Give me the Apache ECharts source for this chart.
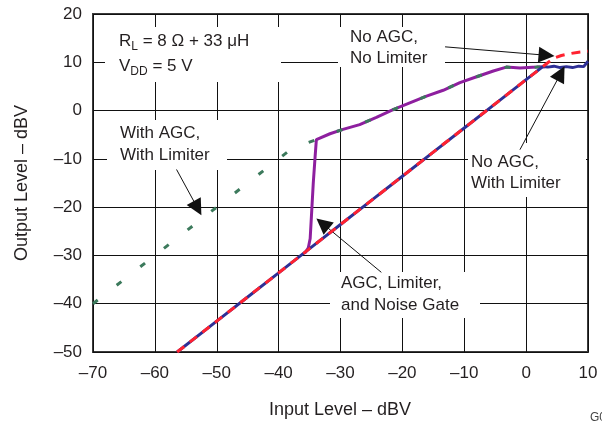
<!DOCTYPE html>
<html>
<head>
<meta charset="utf-8">
<script src="https://cdn.jsdelivr.net/npm/echarts@6/dist/echarts.min.js"></script>
<style>
html,body{margin:0;padding:0;background:#fff;}
#chart{width:602px;height:422px;}
</style>
</head>
<body>
<div id="chart"></div>
<script>
// ---- data ----
var xTicks = [-70, -60, -50, -40, -30, -20, -10, 0, 10];
var yTicks = [-50, -40, -30, -20, -10, 0, 10, 20];

// No AGC, No Limiter (red dashed)
var noAgcNoLimiter = [
  [-56.4,-50],[-50,-43.6],[-45,-38.6],[-40,-33.6],[-35,-28.6],[-30,-23.6],[-25,-18.6],
  [-20,-13.6],[-15,-8.6],[-10,-3.6],[-5,1.4],[0,6.4],[2.7,9.1],[3.6,10.0],[4.6,10.9],
  [5.7,11.4],[7.1,11.8],[8.5,12.1],[10,12.3]
];
// No AGC, With Limiter (blue)
var noAgcWithLimiter = [
  [-56.4,-50],[-50,-43.6],[-45,-38.6],[-40,-33.6],[-35,-28.6],[-30,-23.6],[-25,-18.6],
  [-20,-13.6],[-15,-8.6],[-10,-3.6],[-5,1.4],[0,6.4],[2.7,9.1],[3.5,9.0],[4.5,9.2],
  [5.5,8.9],[6.5,9.1],[7.5,8.9],[8.5,9.2],[9.3,9.1],[10,10.2]
];
// With AGC, With Limiter (green dashed)
var agcWithLimiter = [
  [-70,-40],[-60,-30],[-50,-20],[-38.5,-8.5],[-36,-7.0],[-33.9,-6.0],[-31.7,-4.8],
  [-29.6,-3.9],[-26.9,-2.9],[-24.2,-1.4],[-21.5,0.2],[-18.8,1.6],[-16.1,3.0],[-13.4,4.2],
  [-10.7,5.8],[-8.0,7.0],[-5.3,8.2],[-3.2,9.0],[-1.0,8.8],[1.7,9.0],[3.0,9.1]
];
// AGC, Limiter, and Noise Gate (purple)
var agcLimiterNoiseGate = [
  [-35.8,-29.6],[-35.2,-28.4],[-34.9,-26.5],[-34.7,-21.9],[-34.4,-15.0],[-34.1,-9.5],
  [-33.9,-6.0],[-31.7,-4.8],[-29.6,-3.9],[-26.9,-2.9],[-24.2,-1.4],[-21.5,0.2],
  [-18.8,1.6],[-16.1,3.0],[-13.4,4.2],[-10.7,5.8],[-8.0,7.0],[-5.3,8.2],[-3.2,9.0],
  [-1.0,8.8],[1.7,9.0],[3.0,9.1]
];
// annotation arrows: [start, head]
var arrowNoLimiter   = [[-13.1,13.2],[3.3,11.45]];
var arrowWithLimiter = [[-1.0,-8.1],[5.6,7.7]];
var arrowWithAgc     = [[-56.5,-12.2],[-53.1,-20.2]];
var arrowNoiseGate   = [[-23.4,-33.5],[-32.9,-23.4]];

var FONT = '"Liberation Sans", Arial, Helvetica, sans-serif';
var TXT = '#231f20';
function fmt(v){ return String(v).replace('-', '\u2013'); }

var chart = echarts.init(document.getElementById('chart'), null, {renderer:'canvas'});

function arrow(a){
  return [{coord:a[0], symbol:'none'},{coord:a[1], symbol:'triangle', symbolSize:16}];
}

function box(x,y,w,h){
  return {type:'rect', z:1, shape:{x:x,y:y,width:w,height:h}, style:{fill:'#fff'}, silent:true};
}
function txt(x,y,s,opt){
  var o = {type:'text', z:1, x:x, y:y, silent:true,
    style:{text:s, font:'17px ' + FONT, fill:TXT, textAlign:'left', textVerticalAlign:'middle'}};
  if (opt) for (var k in opt) o.style[k] = opt[k];
  return o;
}

var option = {
  animation:false,
  backgroundColor:'#fff',
  grid:{left:93, right:14, top:14, bottom:70, show:true, borderColor:'#3a3a3a', borderWidth:2, backgroundColor:'transparent'},
  xAxis:{
    type:'value', min:-70, max:10, interval:10,
    axisLine:{show:false}, axisTick:{show:false},
    splitLine:{show:true, lineStyle:{color:'#111', width:1}},
    axisLabel:{formatter:fmt, fontSize:17, fontFamily:FONT, color:TXT, margin:13}
  },
  yAxis:{
    type:'value', min:-50, max:20, interval:10,
    axisLine:{show:false}, axisTick:{show:false},
    splitLine:{show:true, lineStyle:{color:'#111', width:1}},
    axisLabel:{formatter:fmt, fontSize:17, fontFamily:FONT, color:TXT, margin:11}
  },
  graphic:[
    box(105,27,176,55),
    box(107,120,120,50),
    box(338,27,107,40),
    box(468,143,118,54),
    box(330,272,150,46),
    {type:'text', z:1, x:119, y:41, silent:true,
      style:{text:'{n|R}{s|L}{n| = 8 \u03A9 + 33 \u03BCH}', textVerticalAlign:'middle', fill:TXT,
        rich:{n:{font:'17px '+FONT, fill:TXT, lineHeight:24, verticalAlign:'middle'},
              s:{font:'12px '+FONT, fill:TXT, lineHeight:12, verticalAlign:'bottom'}}}},
    {type:'text', z:1, x:119, y:66, silent:true,
      style:{text:'{n|V}{s|DD}{n| = 5 V}', textVerticalAlign:'middle', fill:TXT,
        rich:{n:{font:'17px '+FONT, fill:TXT, lineHeight:24, verticalAlign:'middle'},
              s:{font:'12px '+FONT, fill:TXT, lineHeight:12, verticalAlign:'bottom'}}}},
    txt(120,133,'With AGC,'),
    txt(120,155,'With Limiter'),
    txt(350,37,'No AGC,'),
    txt(350,58,'No Limiter'),
    txt(471,162,'No AGC,'),
    txt(471,183,'With Limiter'),
    txt(341,283,'AGC, Limiter,'),
    txt(341,305,'and Noise Gate'),
    {type:'text', z:1, x:22, y:183, rotation:Math.PI/2, silent:true,
      style:{text:'Output Level \u2013 dBV', font:'18px '+FONT, fill:TXT, textAlign:'center', textVerticalAlign:'middle'}},
    {type:'text', z:1, x:340, y:410, silent:true,
      style:{text:'Input Level \u2013 dBV', font:'18px '+FONT, fill:TXT, textAlign:'center', textVerticalAlign:'middle'}},
    {type:'text', z:1, x:590, y:418, silent:true,
      style:{text:'G006', font:'12px '+FONT, fill:'#444', textAlign:'left', textVerticalAlign:'middle'}}
  ],
  series:[
    {name:'AGC, Limiter, and Noise Gate', type:'line', data:agcLimiterNoiseGate, showSymbol:false, symbol:'none',
      z:2, lineStyle:{color:'#8e1f9f', width:3}, silent:true},
    {name:'With AGC, With Limiter', type:'line', data:agcWithLimiter, showSymbol:false, symbol:'none',
      z:3, lineStyle:{color:'#3c7a5c', width:3, type:[6,24]}, silent:true},
    {name:'No AGC, With Limiter', type:'line', data:noAgcWithLimiter, showSymbol:false, symbol:'none',
      z:4, lineStyle:{color:'#2e2f96', width:3}, silent:true},
    {name:'No AGC, No Limiter', type:'line', data:noAgcNoLimiter, showSymbol:false, symbol:'none',
      z:5, lineStyle:{color:'#ff2230', width:3, type:[9,7]}, silent:true},
    {name:'arrows', type:'line', data:[], z:6, silent:true,
      markLine:{silent:true, animation:false, symbol:['none','triangle'], symbolSize:16,
        label:{show:false}, lineStyle:{color:'#111', width:1, type:'solid'},
        emphasis:{disabled:true},
        data:[arrow(arrowNoLimiter), arrow(arrowWithLimiter), arrow(arrowWithAgc), arrow(arrowNoiseGate)]}}
  ]
};
chart.setOption(option);
</script>
</body>
</html>
